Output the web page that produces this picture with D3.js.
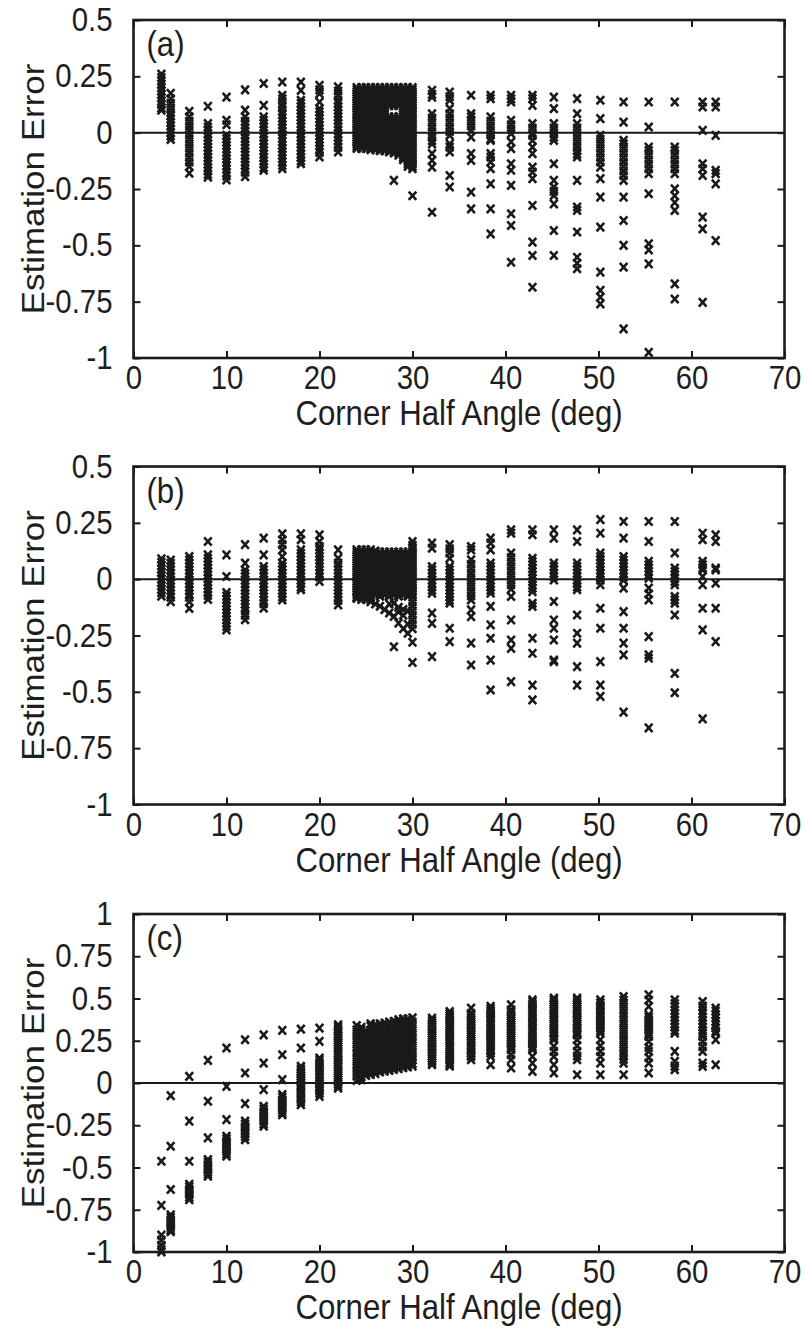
<!DOCTYPE html>
<html><head><meta charset="utf-8">
<script src="https://cdn.jsdelivr.net/npm/d3@7"></script>
<style>
body{margin:0;background:#fff;}
svg text{font-family:"Liberation Sans",Arial,Helvetica,sans-serif;fill:#1e1e1e;}
</style></head><body>
<svg id="chart" width="807" height="1330"></svg>
<script>
const panelLabels = ["(a)", "(b)", "(c)"];
const xTitle = "Corner Half Angle (deg)";
const yTitle = "Estimation Error";
const xTicks = [0, 10, 20, 30, 40, 50, 60, 70];
const xTickLabels = ["0", "10", "20", "30", "40", "50", "60", "70"];
const yTicksAB = [-1, -0.75, -0.5, -0.25, 0, 0.25, 0.5];
const yTickLabelsAB = ["-1", "-0.75", "-0.5", "-0.25", "0", "0.25", "0.5"];
const yTicksC = [-1, -0.75, -0.5, -0.25, 0, 0.25, 0.5, 0.75, 1];
const yTickLabelsC = ["-1", "-0.75", "-0.5", "-0.25", "0", "0.25", "0.5", "0.75", "1"];

const angles = [3, 4, 6, 8, 10, 12, 14, 16, 18, 20, 22, 24, 24.5, 25, 25.5, 26, 26.5, 27, 27.5, 28, 28.5, 29, 29.5, 30, 32.1, 34, 36.3, 38.4, 40.6, 42.9, 45.2, 47.7, 50.2, 52.7, 55.4, 58.2, 61.2, 62.6];

const errorsA = [
  [0.26,0.245,0.23,0.215,0.2,0.185,0.17,0.155,0.14,0.125,0.11,0.1],
  [0.175,0.15,0.13,0.11,0.09,0.075,0.06,0.045,0.03,0.015,0.0,-0.015,-0.03],
  [0.095,0.07,0.05,0.03,0.01,-0.01,-0.03,-0.05,-0.07,-0.09,-0.11,-0.13,-0.15,-0.18],
  [0.117,0.04,0.025,0.01,-0.005,-0.02,-0.035,-0.05,-0.065,-0.08,-0.095,-0.11,-0.125,-0.14,-0.155,-0.17,-0.185,-0.197],
  [0.158,0.055,0.035,-0.012,-0.027,-0.042,-0.057,-0.072,-0.087,-0.102,-0.117,-0.132,-0.147,-0.162,-0.177,-0.192,-0.21],
  [0.19,0.1,0.07,0.05,0.035,0.02,0.005,-0.01,-0.025,-0.04,-0.055,-0.07,-0.085,-0.1,-0.115,-0.13,-0.145,-0.16,-0.175,-0.195],
  [0.218,0.121,0.07,0.055,0.04,0.025,0.01,-0.005,-0.02,-0.035,-0.05,-0.065,-0.08,-0.095,-0.11,-0.125,-0.14,-0.155,-0.167],
  [0.225,0.166,0.15,0.13,0.114,0.095,0.08,0.065,0.05,0.035,0.02,0.005,-0.01,-0.025,-0.04,-0.055,-0.07,-0.085,-0.1,-0.115,-0.13,-0.145,-0.16],
  [0.225,0.188,0.144,0.13,0.115,0.1,0.085,0.07,0.055,0.04,0.025,0.01,-0.005,-0.02,-0.035,-0.05,-0.065,-0.08,-0.095,-0.11,-0.125,-0.138],
  [0.21,0.19,0.173,0.136,0.107,0.092,0.077,0.062,0.047,0.032,0.017,0.002,-0.013,-0.028,-0.043,-0.058,-0.073,-0.088,-0.108],
  [0.203,0.185,0.165,0.144,0.13,0.115,0.1,0.085,0.07,0.055,0.04,0.025,0.01,-0.005,-0.02,-0.035,-0.05,-0.065,-0.086],
  [0.2,0.19,0.18,0.17,0.16,0.15,0.14,0.13,0.12,0.11,0.1,0.09,0.08,0.07,0.06,0.05,0.04,0.03,0.02,0.01,0,-0.01,-0.02,-0.03,-0.04,-0.05,-0.06,-0.07],
  [0.2,0.19,0.18,0.17,0.16,0.15,0.14,0.13,0.12,0.11,0.1,0.09,0.08,0.07,0.06,0.05,0.04,0.03,0.02,0.01,0,-0.01,-0.02,-0.03,-0.04,-0.05,-0.06,-0.07],
  [0.2,0.19,0.18,0.17,0.16,0.15,0.14,0.13,0.12,0.11,0.1,0.09,0.08,0.07,0.06,0.05,0.04,0.03,0.02,0.01,0,-0.01,-0.02,-0.03,-0.04,-0.05,-0.06,-0.07],
  [0.2,0.19,0.18,0.17,0.16,0.15,0.14,0.13,0.12,0.11,0.1,0.09,0.08,0.07,0.06,0.05,0.04,0.03,0.02,0.01,0,-0.01,-0.02,-0.03,-0.04,-0.05,-0.06,-0.07,-0.075],
  [0.2,0.19,0.18,0.17,0.16,0.15,0.14,0.13,0.12,0.11,0.1,0.09,0.08,0.07,0.06,0.05,0.04,0.03,0.02,0.01,0,-0.01,-0.02,-0.03,-0.04,-0.05,-0.06,-0.07,-0.075],
  [0.2,0.19,0.18,0.17,0.16,0.15,0.14,0.13,0.12,0.11,0.1,0.09,0.08,0.07,0.06,0.05,0.04,0.03,0.02,0.01,0,-0.01,-0.02,-0.03,-0.04,-0.05,-0.06,-0.07,-0.08],
  [0.2,0.19,0.18,0.17,0.16,0.15,0.14,0.13,0.12,0.11,0.1,0.09,0.08,0.07,0.06,0.05,0.04,0.03,0.02,0.01,0,-0.01,-0.02,-0.03,-0.04,-0.05,-0.06,-0.07,-0.08],
  [0.2,0.19,0.18,0.17,0.16,0.15,0.14,0.13,0.12,0.07,0.06,0.05,0.04,0.03,0.02,0.01,0,-0.01,-0.02,-0.03,-0.04,-0.05,-0.06,-0.07,-0.08,-0.085],
  [0.2,0.19,0.18,0.17,0.16,0.15,0.14,0.13,0.12,0.07,0.06,0.05,0.04,0.03,0.02,0.01,0,-0.01,-0.02,-0.03,-0.04,-0.05,-0.06,-0.07,-0.08,-0.09,-0.212],
  [0.2,0.19,0.18,0.17,0.16,0.15,0.14,0.13,0.12,0.07,0.06,0.05,0.04,0.03,0.02,0.01,0,-0.01,-0.02,-0.03,-0.04,-0.05,-0.06,-0.07,-0.08,-0.09,-0.1],
  [0.2,0.19,0.18,0.17,0.16,0.15,0.14,0.13,0.12,0.11,0.1,0.09,0.08,0.07,0.06,0.05,0.04,0.03,0.02,0.01,0,-0.01,-0.02,-0.03,-0.04,-0.05,-0.06,-0.07,-0.08,-0.09,-0.1,-0.11,-0.12],
  [0.2,0.19,0.18,0.17,0.16,0.15,0.14,0.13,0.12,0.11,0.1,0.09,0.08,0.07,0.06,0.05,0.04,0.03,0.02,0.01,0,-0.01,-0.02,-0.03,-0.04,-0.05,-0.06,-0.07,-0.08,-0.09,-0.1,-0.11,-0.12,-0.13,-0.14,-0.15],
  [0.2,0.19,0.18,0.17,0.16,0.15,0.14,0.13,0.12,0.11,0.1,0.09,0.08,0.07,0.06,0.05,0.04,0.03,0.02,0.01,0,-0.01,-0.02,-0.03,-0.04,-0.05,-0.06,-0.07,-0.08,-0.09,-0.1,-0.11,-0.12,-0.13,-0.14,-0.15,-0.16,-0.28],
  [0.188,0.17,0.158,0.084,0.065,0.045,0.025,0.005,-0.015,-0.035,-0.05,-0.093,-0.123,-0.153,-0.353],
  [0.18,0.16,0.144,0.107,0.084,0.065,0.045,0.025,0.005,-0.012,-0.05,-0.064,-0.086,-0.19,-0.241],
  [0.166,0.084,0.07,0.05,0.03,0.01,-0.02,-0.093,-0.123,-0.264,-0.338],
  [0.166,0.151,0.07,0.05,0.03,0.01,-0.01,-0.027,-0.034,-0.093,-0.108,-0.13,-0.16,-0.227,-0.338,-0.449],
  [0.166,0.15,0.136,0.055,0.035,0.015,-0.004,-0.041,-0.071,-0.138,-0.167,-0.234,-0.36,-0.412,-0.575],
  [0.166,0.151,0.121,0.04,0.02,0.0,-0.012,-0.034,-0.064,-0.093,-0.153,-0.175,-0.204,-0.323,-0.486,-0.545,-0.686],
  [0.158,0.107,0.04,0.02,0.0,-0.02,-0.034,-0.138,-0.212,-0.241,-0.26,-0.279,-0.316,-0.434,-0.545],
  [0.151,0.084,0.04,0.02,0.0,-0.02,-0.04,-0.06,-0.08,-0.095,-0.108,-0.212,-0.33,-0.345,-0.441,-0.553,-0.58,-0.604],
  [0.144,0.062,-0.012,-0.03,-0.05,-0.07,-0.09,-0.11,-0.13,-0.153,-0.204,-0.286,-0.419,-0.619,-0.7,-0.73,-0.76],
  [0.136,0.047,-0.034,-0.05,-0.07,-0.09,-0.11,-0.13,-0.15,-0.17,-0.19,-0.212,-0.286,-0.39,-0.5,-0.597,-0.871],
  [0.136,0.025,-0.064,-0.08,-0.1,-0.12,-0.14,-0.16,-0.182,-0.271,-0.493,-0.52,-0.582,-0.975],
  [0.136,-0.064,-0.08,-0.1,-0.12,-0.14,-0.16,-0.182,-0.249,-0.28,-0.31,-0.345,-0.671,-0.738],
  [0.136,0.114,0.01,-0.138,-0.16,-0.19,-0.375,-0.427,-0.753],
  [0.136,0.114,-0.012,-0.167,-0.182,-0.227,-0.479]
];

const errorsB = [
  [0.09,0.075,0.06,0.045,0.03,0.015,0.0,-0.015,-0.03,-0.045,-0.06,-0.075],
  [0.085,0.07,0.055,0.04,0.025,0.01,-0.005,-0.02,-0.035,-0.05,-0.065,-0.08,-0.1],
  [0.1,0.085,0.07,0.055,0.04,0.025,0.01,-0.005,-0.02,-0.035,-0.05,-0.065,-0.08,-0.1,-0.13],
  [0.167,0.108,0.093,0.078,0.063,0.048,0.033,0.018,0.003,-0.012,-0.027,-0.042,-0.057,-0.072,-0.09],
  [0.108,0.012,-0.06,-0.075,-0.09,-0.105,-0.12,-0.135,-0.15,-0.165,-0.18,-0.195,-0.21,-0.225],
  [0.153,0.071,0.04,0.025,0.01,-0.005,-0.02,-0.035,-0.05,-0.065,-0.08,-0.095,-0.11,-0.125,-0.14,-0.16,-0.18],
  [0.182,0.108,0.056,0.041,0.026,0.011,-0.004,-0.019,-0.034,-0.049,-0.064,-0.079,-0.094,-0.109,-0.129],
  [0.201,0.175,0.153,0.13,0.1,0.071,0.056,0.041,0.026,0.011,-0.004,-0.019,-0.034,-0.049,-0.064,-0.079,-0.092],
  [0.201,0.175,0.13,0.115,0.1,0.085,0.07,0.055,0.04,0.025,0.01,-0.005,-0.02,-0.035,-0.047],
  [0.197,0.167,0.145,0.13,0.115,0.1,0.085,0.07,0.055,0.04,0.025,0.01,-0.01],
  [0.13,0.093,0.071,0.056,0.041,0.026,0.011,-0.004,-0.019,-0.034,-0.049,-0.064,-0.079,-0.094,-0.114],
  [0.13,0.12,0.11,0.1,0.09,0.08,0.07,0.06,0.05,0.04,0.03,0.02,0.01,0,-0.01,-0.02,-0.03,-0.04,-0.05,-0.06,-0.07,-0.08,-0.085],
  [0.13,0.12,0.11,0.1,0.09,0.08,0.07,0.06,0.05,0.04,0.03,0.02,0.01,0,-0.01,-0.02,-0.03,-0.04,-0.05,-0.06,-0.07,-0.08,-0.09],
  [0.13,0.12,0.11,0.1,0.09,0.08,0.07,0.06,0.05,0.04,0.03,0.02,0.01,0,-0.01,-0.02,-0.03,-0.04,-0.05,-0.06,-0.07,-0.08,-0.09],
  [0.13,0.12,0.11,0.1,0.09,0.08,0.07,0.06,0.05,0.04,0.03,0.02,0.01,0,-0.01,-0.02,-0.03,-0.04,-0.05,-0.06,-0.07,-0.08,-0.09,-0.1],
  [0.125,0.12,0.11,0.1,0.09,0.08,0.07,0.06,0.05,0.04,0.03,0.02,0.01,0,-0.01,-0.02,-0.03,-0.04,-0.05,-0.06,-0.07,-0.11],
  [0.12,0.11,0.1,0.09,0.08,0.07,0.06,0.05,0.04,0.03,0.02,0.01,0,-0.01,-0.02,-0.03,-0.04,-0.05,-0.06,-0.07,-0.075,-0.12],
  [0.12,0.11,0.1,0.09,0.08,0.07,0.06,0.05,0.04,0.03,0.02,0.01,0,-0.01,-0.02,-0.03,-0.04,-0.05,-0.06,-0.07,-0.135],
  [0.12,0.11,0.1,0.09,0.08,0.07,0.06,0.05,0.04,0.03,0.02,0.01,0,-0.01,-0.02,-0.03,-0.04,-0.05,-0.06,-0.07,-0.075,-0.11,-0.15],
  [0.12,0.11,0.1,0.09,0.08,0.07,0.06,0.05,0.04,0.03,0.02,0.01,0,-0.01,-0.02,-0.03,-0.04,-0.05,-0.06,-0.07,-0.107,-0.165,-0.3],
  [0.12,0.11,0.1,0.09,0.08,0.07,0.06,0.05,0.04,0.03,0.02,0.01,0,-0.01,-0.02,-0.03,-0.04,-0.05,-0.06,-0.07,-0.075,-0.125,-0.145,-0.195],
  [0.12,0.11,0.1,0.09,0.08,0.07,0.06,0.05,0.04,0.03,0.02,0.01,0,-0.01,-0.02,-0.03,-0.04,-0.05,-0.06,-0.07,-0.135,-0.16,-0.22],
  [0.12,0.11,0.1,0.09,0.08,0.07,0.06,0.05,0.04,0.03,0.02,0.01,0,-0.01,-0.02,-0.03,-0.04,-0.05,-0.06,-0.07,-0.075,-0.14,-0.2,-0.24],
  [0.167,0.15,0.14,0.13,0.12,0.11,0.1,0.09,0.08,0.07,0.06,0.05,0.04,0.03,0.02,0.01,0,-0.01,-0.02,-0.03,-0.04,-0.05,-0.06,-0.07,-0.08,-0.1,-0.12,-0.14,-0.16,-0.18,-0.2,-0.22,-0.28,-0.37],
  [0.16,0.138,0.056,0.041,0.026,0.011,-0.004,-0.019,-0.034,-0.049,-0.062,-0.151,-0.196,-0.344],
  [0.153,0.135,0.116,0.093,0.056,0.041,0.026,0.011,-0.004,-0.019,-0.034,-0.049,-0.064,-0.079,-0.094,-0.107,-0.218,-0.277],
  [0.145,0.13,0.086,0.066,0.046,0.026,0.006,-0.014,-0.034,-0.054,-0.074,-0.092,-0.136,-0.166,-0.284,-0.381],
  [0.182,0.16,0.13,0.071,0.056,0.041,0.026,0.011,-0.004,-0.019,-0.034,-0.049,-0.062,-0.121,-0.203,-0.262,-0.359,-0.492],
  [0.219,0.204,0.116,0.096,0.076,0.056,0.036,0.016,-0.004,-0.024,-0.044,-0.077,-0.181,-0.27,-0.307,-0.455],
  [0.219,0.197,0.093,0.078,0.063,0.048,0.033,0.018,0.003,-0.012,-0.027,-0.04,-0.055,-0.107,-0.121,-0.262,-0.329,-0.47,-0.536],
  [0.219,0.182,0.071,0.056,0.041,0.026,0.011,-0.003,-0.099,-0.181,-0.218,-0.27,-0.359,-0.366],
  [0.219,0.167,0.071,0.056,0.041,0.026,0.011,-0.004,-0.019,-0.034,-0.047,-0.159,-0.24,-0.284,-0.388,-0.47],
  [0.264,0.204,0.116,0.1,0.085,0.07,0.055,0.04,0.025,0.01,-0.005,-0.025,-0.129,-0.218,-0.366,-0.47,-0.52],
  [0.256,0.182,0.1,0.085,0.07,0.055,0.04,0.025,0.01,-0.005,-0.04,-0.144,-0.218,-0.284,-0.336,-0.59],
  [0.256,0.167,0.079,0.064,0.049,0.034,0.019,0.004,-0.04,-0.065,-0.092,-0.255,-0.336,-0.351,-0.66],
  [0.256,0.116,0.049,0.034,0.019,0.004,-0.011,-0.025,-0.077,-0.092,-0.107,-0.159,-0.418,-0.504],
  [0.204,0.175,0.079,0.064,0.05,0.041,0.012,-0.025,-0.129,-0.225,-0.62],
  [0.197,0.167,0.049,0.041,-0.018,-0.129,-0.277]
];

const errorsC = [
  [-0.463,-0.724,-0.9,-0.93,-0.96,-0.985,-1.0],
  [-0.075,-0.374,-0.63,-0.78,-0.795,-0.81,-0.825,-0.84,-0.855,-0.87,-0.88],
  [0.039,-0.226,-0.463,-0.6,-0.615,-0.63,-0.645,-0.66,-0.675,-0.69],
  [0.134,-0.108,-0.325,-0.453,-0.468,-0.483,-0.498,-0.513,-0.528,-0.54,-0.551],
  [0.207,-0.02,-0.217,-0.315,-0.33,-0.345,-0.36,-0.375,-0.39,-0.405,-0.42,-0.433],
  [0.256,0.059,-0.122,-0.226,-0.241,-0.256,-0.271,-0.286,-0.301,-0.316,-0.335],
  [0.285,0.118,-0.039,-0.138,-0.153,-0.168,-0.183,-0.198,-0.213,-0.228,-0.243,-0.256],
  [0.311,0.167,0.02,-0.069,-0.084,-0.099,-0.114,-0.129,-0.144,-0.159,-0.174,-0.187],
  [0.319,0.207,0.098,0.084,0.07,0.056,0.042,0.028,0.014,0.0,-0.014,-0.028,-0.042,-0.056,-0.07,-0.084,-0.098,-0.112,-0.128],
  [0.325,0.246,0.148,0.134,0.12,0.106,0.092,0.078,0.064,0.05,0.036,0.022,0.008,-0.006,-0.02,-0.034,-0.048,-0.062,-0.079],
  [0.344,0.331,0.318,0.305,0.292,0.279,0.266,0.253,0.24,0.227,0.214,0.201,0.188,0.175,0.162,0.149,0.136,0.123,0.11,0.097,0.084,0.071,0.058,0.045,0.032,0.019,0.006,-0.007,-0.02,-0.03],
  [0.34,0.315,0.29,0.265,0.24,0.215,0.19,0.165,0.14,0.115,0.09,0.065,0.04,0.015],
  [0.33,0.3125,0.2875,0.2625,0.2375,0.2125,0.1875,0.1625,0.1375,0.1125,0.0875,0.0625,0.0375,0.02],
  [0.31,0.29,0.265,0.24,0.215,0.19,0.165,0.14,0.115,0.09,0.065,0.045],
  [0.35,0.3375,0.3125,0.2875,0.2625,0.2375,0.2125,0.1875,0.1625,0.1375,0.1125,0.0875,0.0625,0.05],
  [0.345,0.32,0.295,0.27,0.245,0.22,0.195,0.17,0.145,0.12,0.095,0.07,0.055],
  [0.35,0.3375,0.3125,0.2875,0.2625,0.2375,0.2125,0.1875,0.1625,0.1375,0.1125,0.0875,0.065],
  [0.355,0.33,0.305,0.28,0.255,0.23,0.205,0.18,0.155,0.13,0.105,0.08,0.07],
  [0.36,0.3375,0.3125,0.2875,0.2625,0.2375,0.2125,0.1875,0.1625,0.1375,0.1125,0.0875,0.075],
  [0.365,0.34,0.315,0.29,0.265,0.24,0.215,0.19,0.165,0.14,0.115,0.09,0.08],
  [0.375,0.3625,0.3375,0.3125,0.2875,0.2625,0.2375,0.2125,0.1875,0.1625,0.1375,0.1125,0.085],
  [0.38,0.355,0.33,0.305,0.28,0.255,0.23,0.205,0.18,0.155,0.13,0.105,0.09],
  [0.38,0.3625,0.3375,0.3125,0.2875,0.2625,0.2375,0.2125,0.1875,0.1625,0.1375,0.1125,0.095],
  [0.385,0.36,0.335,0.31,0.285,0.26,0.235,0.21,0.185,0.16,0.135,0.115,0.1],
  [0.384,0.37,0.357,0.345,0.332,0.32,0.307,0.295,0.282,0.27,0.257,0.245,0.232,0.22,0.207,0.195,0.182,0.17,0.157,0.145,0.132,0.12,0.108],
  [0.423,0.41,0.397,0.385,0.372,0.36,0.347,0.335,0.322,0.31,0.297,0.285,0.272,0.26,0.247,0.235,0.222,0.21,0.197,0.185,0.172,0.16,0.147,0.135,0.122,0.11,0.1],
  [0.443,0.413,0.4,0.387,0.375,0.362,0.35,0.337,0.325,0.312,0.3,0.287,0.275,0.262,0.25,0.237,0.225,0.212,0.2,0.187,0.175,0.162,0.157,0.138],
  [0.453,0.44,0.427,0.415,0.402,0.39,0.377,0.365,0.352,0.34,0.327,0.315,0.302,0.29,0.277,0.265,0.252,0.24,0.227,0.215,0.202,0.19,0.177,0.157,0.108],
  [0.463,0.433,0.42,0.407,0.395,0.382,0.37,0.357,0.345,0.332,0.32,0.307,0.295,0.282,0.27,0.257,0.245,0.232,0.22,0.207,0.197,0.167,0.138,0.089],
  [0.492,0.48,0.467,0.455,0.442,0.43,0.417,0.405,0.392,0.38,0.367,0.355,0.342,0.33,0.317,0.305,0.292,0.28,0.267,0.255,0.242,0.23,0.217,0.205,0.197,0.157,0.118,0.069],
  [0.502,0.49,0.477,0.465,0.452,0.44,0.427,0.415,0.402,0.39,0.377,0.365,0.352,0.34,0.327,0.315,0.302,0.29,0.277,0.265,0.256,0.217,0.187,0.157,0.108,0.059],
  [0.502,0.49,0.477,0.465,0.452,0.44,0.427,0.415,0.402,0.39,0.377,0.365,0.352,0.34,0.327,0.315,0.302,0.29,0.285,0.256,0.22,0.187,0.16,0.138,0.049],
  [0.492,0.475,0.46,0.445,0.43,0.415,0.4,0.385,0.37,0.355,0.34,0.325,0.31,0.295,0.256,0.22,0.187,0.157,0.118,0.049],
  [0.512,0.49,0.465,0.44,0.415,0.39,0.365,0.34,0.315,0.29,0.265,0.24,0.215,0.19,0.165,0.14,0.118,0.049],
  [0.522,0.49,0.453,0.404,0.39,0.375,0.36,0.345,0.33,0.315,0.3,0.288,0.276,0.246,0.21,0.187,0.15,0.118,0.059],
  [0.492,0.47,0.45,0.43,0.41,0.39,0.37,0.35,0.33,0.31,0.295,0.187,0.128,0.1,0.079],
  [0.482,0.455,0.43,0.41,0.39,0.37,0.35,0.33,0.31,0.295,0.276,0.245,0.215,0.187,0.118,0.098],
  [0.443,0.425,0.405,0.385,0.365,0.345,0.325,0.305,0.295,0.256,0.108]
];

const panels = [
  {label: panelLabels[0], errors: errorsA, domain: [-1, 0.5], ticks: yTicksAB, tickLabels: yTickLabelsAB, top: 20},
  {label: panelLabels[1], errors: errorsB, domain: [-1, 0.5], ticks: yTicksAB, tickLabels: yTickLabelsAB, top: 466.5},
  {label: panelLabels[2], errors: errorsC, domain: [-1, 1], ticks: yTicksC, tickLabels: yTickLabelsC, top: 914}
];

const svg = d3.select("#chart");
const L = 133.5, R = 784.5, H = 338;
const ink = "#1a1a1a";
const tickFont = 33, titleFont = 35, squeeze = 0.89;
const x = d3.scaleLinear().domain([0, 70]).range([L, R]);

// horizontally condense text (the reference typeface is narrow)
function narrow(sel) {
  sel.each(function () {
    const t = d3.select(this);
    const tx = +t.attr("x") || 0, ty = +t.attr("y") || 0;
    t.attr("x", null).attr("y", null)
      .attr("transform", `translate(${tx},${ty}) scale(${squeeze},1)`);
  });
}

panels.forEach(p => {
  const T = p.top, B = T + H;
  const y = d3.scaleLinear().domain(p.domain).range([B, T]);
  const g = svg.append("g");

  // zero line
  g.append("line").attr("x1", x(0)).attr("x2", x(70)).attr("y1", y(0)).attr("y2", y(0))
    .attr("stroke", ink).attr("stroke-width", 2);

  // markers
  const pts = [];
  angles.forEach((a, i) => p.errors[i].forEach(v => pts.push([a, v])));
  const sx = 3.8, sy = 4.2;
  g.append("g").selectAll("path").data(pts).join("path")
    .attr("transform", d => `translate(${x(d[0])},${y(d[1])})`)
    .attr("d", `M${-sx},${-sy}L${sx},${sy}M${-sx},${sy}L${sx},${-sy}`)
    .attr("stroke", ink).attr("stroke-width", 2.6).attr("fill", "none");

  const styleAxis = sel => {
    sel.attr("font-family", null).attr("font-size", null);
    sel.select(".domain").remove();
    sel.selectAll(".tick line").attr("stroke", ink).attr("stroke-width", 2);
    sel.selectAll(".tick text").attr("font-size", tickFont).attr("fill", "#1e1e1e").call(narrow);
  };
  g.append("g").attr("transform", `translate(0,${B})`)
    .call(d3.axisBottom(x).tickValues(xTicks).tickFormat((d, i) => xTickLabels[i]).tickSizeInner(-7).tickSizeOuter(0).tickPadding(8))
    .call(styleAxis);
  g.append("g").attr("transform", `translate(0,${T})`)
    .call(d3.axisTop(x).tickValues(xTicks).tickFormat("").tickSizeInner(-7).tickSizeOuter(0))
    .call(styleAxis);
  g.append("g").attr("transform", `translate(${L},0)`)
    .call(d3.axisLeft(y).tickValues(p.ticks).tickFormat((d, i) => p.tickLabels[i]).tickSizeInner(-7).tickSizeOuter(0).tickPadding(21))
    .call(styleAxis);
  g.append("g").attr("transform", `translate(${R},0)`)
    .call(d3.axisRight(y).tickValues(p.ticks).tickFormat("").tickSizeInner(-7).tickSizeOuter(0))
    .call(styleAxis);

  // frame
  g.append("rect").attr("x", L).attr("y", T).attr("width", R - L).attr("height", H)
    .attr("fill", "none").attr("stroke", ink).attr("stroke-width", 2.6);

  // panel label
  g.append("text").attr("x", L + 13).attr("y", T + 36).attr("font-size", titleFont)
    .text(p.label).call(narrow);

  // titles
  g.append("text").attr("x", (L + R) / 2).attr("y", B + 67).attr("text-anchor", "middle")
    .attr("font-size", titleFont).text(xTitle).call(narrow);
  g.append("text").attr("transform", `translate(44,${(T + B) / 2}) scale(${squeeze},1) rotate(-90)`)
    .attr("text-anchor", "middle").attr("font-size", titleFont).text(yTitle);
});
</script>
</body></html>
